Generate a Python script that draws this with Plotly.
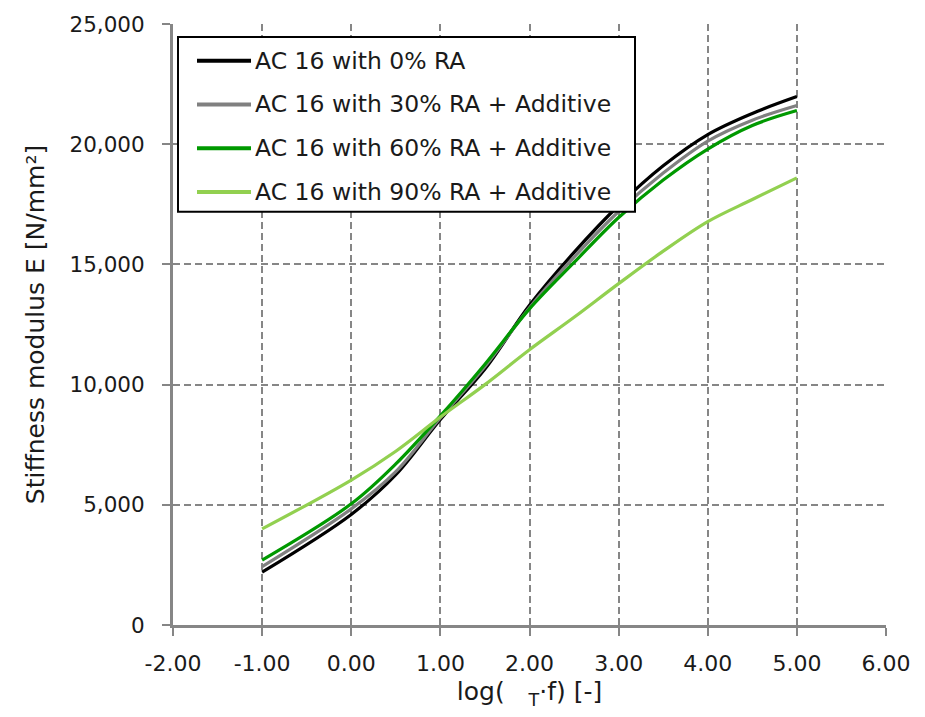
import plotly.graph_objects as go

# ---- data ----
log_aT_f = [-1.0, 0.0, 0.5, 1.0, 1.5, 2.0, 2.5, 3.0, 3.5, 4.0, 4.5, 5.0]
e_ra0 = [2200, 4600, 6250, 8550, 10650, 13300, 15500, 17450, 19100, 20400, 21280, 21980]
e_ra30 = [2430, 4830, 6380, 8620, 10750, 13200, 15300, 17200, 18800, 20130, 21000, 21610]
e_ra60 = [2700, 5040, 6700, 8700, 10850, 13150, 15080, 16950, 18510, 19800, 20780, 21400]
e_ra90 = [4000, 6030, 7230, 8650, 10000, 11450, 12800, 14200, 15550, 16780, 17700, 18600]

series_names = [
    "AC 16 with 0% RA",
    "AC 16 with 30% RA + Additive",
    "AC 16 with 60% RA + Additive",
    "AC 16 with 90% RA + Additive",
]
series_values = [e_ra0, e_ra30, e_ra60, e_ra90]
series_colors = ["#000000", "#808080", "#009900", "#92D050"]

x_tick_vals = [-2, -1, 0, 1, 2, 3, 4, 5, 6]
x_tick_text = ["-2.00", "-1.00", "0.00", "1.00", "2.00", "3.00", "4.00", "5.00", "6.00"]
y_tick_vals = [0, 5000, 10000, 15000, 20000, 25000]
y_tick_text = ["0", "5,000", "10,000", "15,000", "20,000", "25,000"]

FONT = "DejaVu Sans"
TXT = "#1a1a1a"
AX = "#868686"

fig = go.Figure()
for name, vals, col in zip(series_names, series_values, series_colors):
    fig.add_trace(go.Scatter(
        x=log_aT_f, y=vals, name=name, mode="lines",
        line=dict(color=col, width=3.2, shape="spline", smoothing=1.0),
        showlegend=False,
    ))

# ---- plot-area geometry (pixels) ----
W, H = 925, 717
L, R, T, B = 173, 886, 20, 625


def px(xp):
    return (xp - L) / (R - L)


def py(yp):
    return (B - yp) / (B - T)


shapes = []
annotations = []
# legend box
shapes.append(dict(type="rect", xref="paper", yref="paper",
                   x0=px(178), x1=px(635), y0=py(209), y1=py(33),
                   fillcolor="white", line=dict(color="black", width=2),
                   layer="above"))
item_y = [57, 101, 145, 189]
for name, col, yy in zip(series_names, series_colors, item_y):
    shapes.append(dict(type="line", xref="paper", yref="paper",
                       x0=px(197), x1=px(251), y0=py(yy), y1=py(yy),
                       line=dict(color=col, width=4), layer="above"))
    annotations.append(dict(xref="paper", yref="paper", x=px(253), y=py(yy),
                            xanchor="left", yanchor="middle", showarrow=False,
                            text=name, font=dict(family=FONT, size=23.5, color=TXT)))

fig.update_layout(
    width=W, height=H,
    margin=dict(l=L, r=W - R, t=T, b=H - B, pad=0),
    paper_bgcolor="white", plot_bgcolor="white",
    shapes=shapes, annotations=annotations,
    font=dict(family=FONT, color=TXT),
)

fig.update_xaxes(
    range=[-2, 6], tickvals=x_tick_vals, ticktext=x_tick_text,
    showline=True, linecolor=AX, linewidth=3,
    showgrid=True, gridcolor=AX, gridwidth=2, griddash="7px,4px",
    ticks="outside", ticklen=8, tickwidth=2, tickcolor=AX,
    ticklabelstandoff=9,
    tickfont=dict(family=FONT, size=22, color=TXT),
    zeroline=False,
    title=dict(text="log(\u00a0\u00a0\u00a0<sub>T</sub>·f) [-]",
               font=dict(family=FONT, size=25, color=TXT), standoff=8),
)
fig.update_yaxes(
    range=[0, 25000], tickvals=y_tick_vals, ticktext=y_tick_text,
    showline=True, linecolor=AX, linewidth=3,
    showgrid=True, gridcolor=AX, gridwidth=2, griddash="7px,4px",
    ticks="outside", ticklen=8, tickwidth=2, tickcolor=AX,
    ticklabelstandoff=13,
    tickfont=dict(family=FONT, size=21.5, color=TXT),
    zeroline=False,
    title=dict(text="Stiffness modulus E [N/mm²]",
               font=dict(family=FONT, size=25, color=TXT), standoff=18),
)

fig.write_html("out.html")
